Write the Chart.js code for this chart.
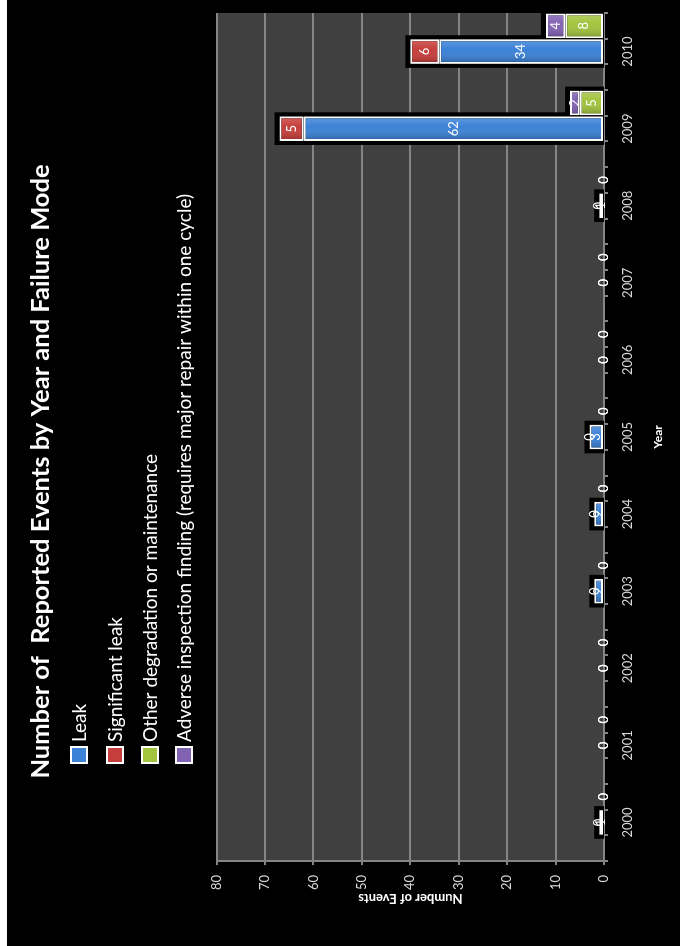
<!DOCTYPE html>
<html>
<head>
<meta charset="utf-8">
<script src="https://cdn.jsdelivr.net/npm/chart.js@4.4.1/dist/chart.umd.min.js"></script>
<style>
  html, body { margin: 0; padding: 0; background: #fff; overflow: hidden; }
  /* chart is laid out landscape, then turned a quarter turn to the left */
  #turn {
    position: absolute; left: 0; top: 0; width: 946px; height: 680px;
    transform-origin: 0 0; transform: translateY(946px) rotate(-90deg);
  }
  #wrap { position: absolute; left: 0; top: 7px; width: 946px; height: 673px; background: #000; }
</style>
</head>
<body>
<div id="turn"><div id="wrap"><canvas id="eventsChart"></canvas></div></div>
<script>
const years = ['2000', '2001', '2002', '2003', '2004', '2005', '2006', '2007', '2008', '2009', '2010'];
const leak = [1, 0, 0, 2, 2, 3, 0, 0, 1, 62, 34];
const significantLeak = [0, 0, 0, 0, 0, 0, 0, 0, 0, 5, 6];
const otherDegradation = [0, 0, 0, 0, 0, 0, 0, 0, 0, 5, 8];
const adverseFinding = [0, 0, 0, 0, 0, 0, 0, 0, 0, 2, 4];
const seriesNames = ['Leak', 'Significant leak', 'Other degradation or maintenance',
  'Adverse inspection finding (requires major repair within one cycle)'];
const seriesColors = ['#3c82d6', '#c63f3c', '#a3c43f', '#8262b3'];
const valueMin = 0, valueMax = 80, valueStep = 10;

// every year gets three slots: an empty one, the leak stack, the other stack
const slotLabels = years.flatMap(y => ['', y, '']);
function toSlots(values, slot) {
  return values.flatMap(v => [0, 1, 2].map(k => (k === slot ? v : null)));
}

const FONT = 'Lato, "Open Sans", sans-serif';
const GRID = '#858585';
const TICK_TEXT = '#d9d9d9';

// dark plot background
const plotBg = {
  id: 'plotBg',
  beforeDraw(chart) {
    const { ctx, chartArea: a } = chart;
    ctx.save();
    ctx.fillStyle = '#404040';
    ctx.fillRect(a.left, a.top, a.right - a.left, a.bottom - a.top);
    ctx.restore();
  }
};

// black halo behind each stack
const stackShadow = {
  id: 'stackShadow',
  beforeDatasetsDraw(chart) {
    const { ctx, scales } = chart;
    const base = scales.y.getPixelForValue(0);
    ctx.save();
    ctx.fillStyle = '#000';
    chart.data.labels.forEach((_, j) => {
      let top = base, x = null, w = 0;
      chart.data.datasets.forEach((ds, i) => {
        if (!ds.data[j]) return;
        const el = chart.getDatasetMeta(i).data[j];
        top = Math.min(top, el.y);
        x = el.x; w = el.width;
      });
      if (x === null) return;
      ctx.fillRect(x - w / 2 - 4, top - 5, w + 8, base - top + 5);
    });
    ctx.restore();
  }
};

// light sheen across each segment, then value labels in the middle
const valueLabels = {
  id: 'valueLabels',
  afterDatasetsDraw(chart) {
    const { ctx } = chart;
    ctx.save();
    chart.data.datasets.forEach((ds, i) => {
      chart.getDatasetMeta(i).data.forEach((el, j) => {
        if (!ds.data[j]) return;
        const l = el.x - el.width / 2 + 2, r = el.x + el.width / 2 - 2;
        const g = ctx.createLinearGradient(l, 0, r, 0);
        g.addColorStop(0, 'rgba(0,0,0,0.18)');
        g.addColorStop(0.6, 'rgba(255,255,255,0)');
        g.addColorStop(1, 'rgba(255,255,255,0.16)');
        ctx.fillStyle = g;
        ctx.fillRect(l, el.y + 2, r - l, el.base - el.y - 4);
      });
    });
    ctx.font = '13px ' + FONT;
    ctx.fillStyle = '#fff';
    ctx.textAlign = 'center';
    ctx.textBaseline = 'middle';
    chart.data.datasets.forEach((ds, i) => {
      chart.getDatasetMeta(i).data.forEach((el, j) => {
        const v = ds.data[j];
        if (v === null) return;
        ctx.fillText(String(v), el.x, (el.y + el.base) / 2);
      });
    });
    ctx.restore();
  }
};

// one-per-line legend under the title
const listLegend = {
  id: 'listLegend',
  afterDraw(chart) {
    const { ctx } = chart;
    const rows = [72, 108, 143, 177];
    ctx.save();
    ctx.font = '19px ' + FONT;
    ctx.textBaseline = 'middle';
    chart.data.datasets.forEach((ds, i) => {
      const y = rows[i];
      ctx.fillStyle = '#fff';
      ctx.fillRect(182, y - 9, 18, 18);
      ctx.fillStyle = ds.backgroundColor;
      ctx.fillRect(184, y - 7, 14, 14);
      ctx.fillStyle = '#fff';
      ctx.fillText(ds.label, 204, y + 1);
    });
    ctx.restore();
  }
};

const makeSet = (i, values, slot) => ({
  label: seriesNames[i],
  data: toSlots(values, slot),
  backgroundColor: seriesColors[i],
  borderColor: '#fff',
  borderWidth: 2,
  borderSkipped: false,
  categoryPercentage: 1,
  barPercentage: 0.96
});

new Chart(document.getElementById('eventsChart'), {
  type: 'bar',
  data: {
    labels: slotLabels,
    datasets: [
      makeSet(0, leak, 1),
      makeSet(1, significantLeak, 1),
      makeSet(2, otherDegradation, 2),
      makeSet(3, adverseFinding, 2)
    ]
  },
  options: {
    responsive: true,
    maintainAspectRatio: false,
    animation: false,
    layout: { padding: { left: 16, right: 13, top: 0, bottom: 0 } },
    plugins: {
      legend: { display: false },
      tooltip: { enabled: false },
      title: {
        display: true,
        text: 'Number of  Reported Events by Year and Failure Mode',
        color: '#fff',
        font: { family: FONT, size: 25.5, weight: 'bold', lineHeight: 1.2 },
        padding: { top: 18, bottom: 161 }
      }
    },
    scales: {
      x: {
        stacked: true,
        afterFit: s => { s.height = 76; },
        grid: { drawOnChartArea: false, drawTicks: true, tickLength: 4, color: GRID, lineWidth: 2, offset: true },
        border: { display: true, color: GRID, width: 2 },
        ticks: { autoSkip: false, maxRotation: 0, color: TICK_TEXT, padding: 12, font: { family: FONT, size: 13 } },
        title: { display: true, text: 'Year', color: '#fff', font: { family: FONT, size: 12, weight: 'bold' }, padding: { top: 0, bottom: 15 } }
      },
      y: {
        stacked: true,
        min: valueMin,
        max: valueMax,
        afterFit: s => { s.width = 69; },
        grid: { color: GRID, lineWidth: 2, tickLength: 4 },
        border: { display: true, color: GRID, width: 2 },
        ticks: { stepSize: valueStep, color: TICK_TEXT, padding: 10, font: { family: FONT, size: 13 } },
        title: { display: true, text: 'Number of Events', color: '#fff', font: { family: FONT, size: 13, weight: 'bold' }, padding: { top: 24, bottom: 0 } }
      }
    }
  },
  plugins: [plotBg, stackShadow, valueLabels, listLegend]
});
</script>
</body>
</html>
